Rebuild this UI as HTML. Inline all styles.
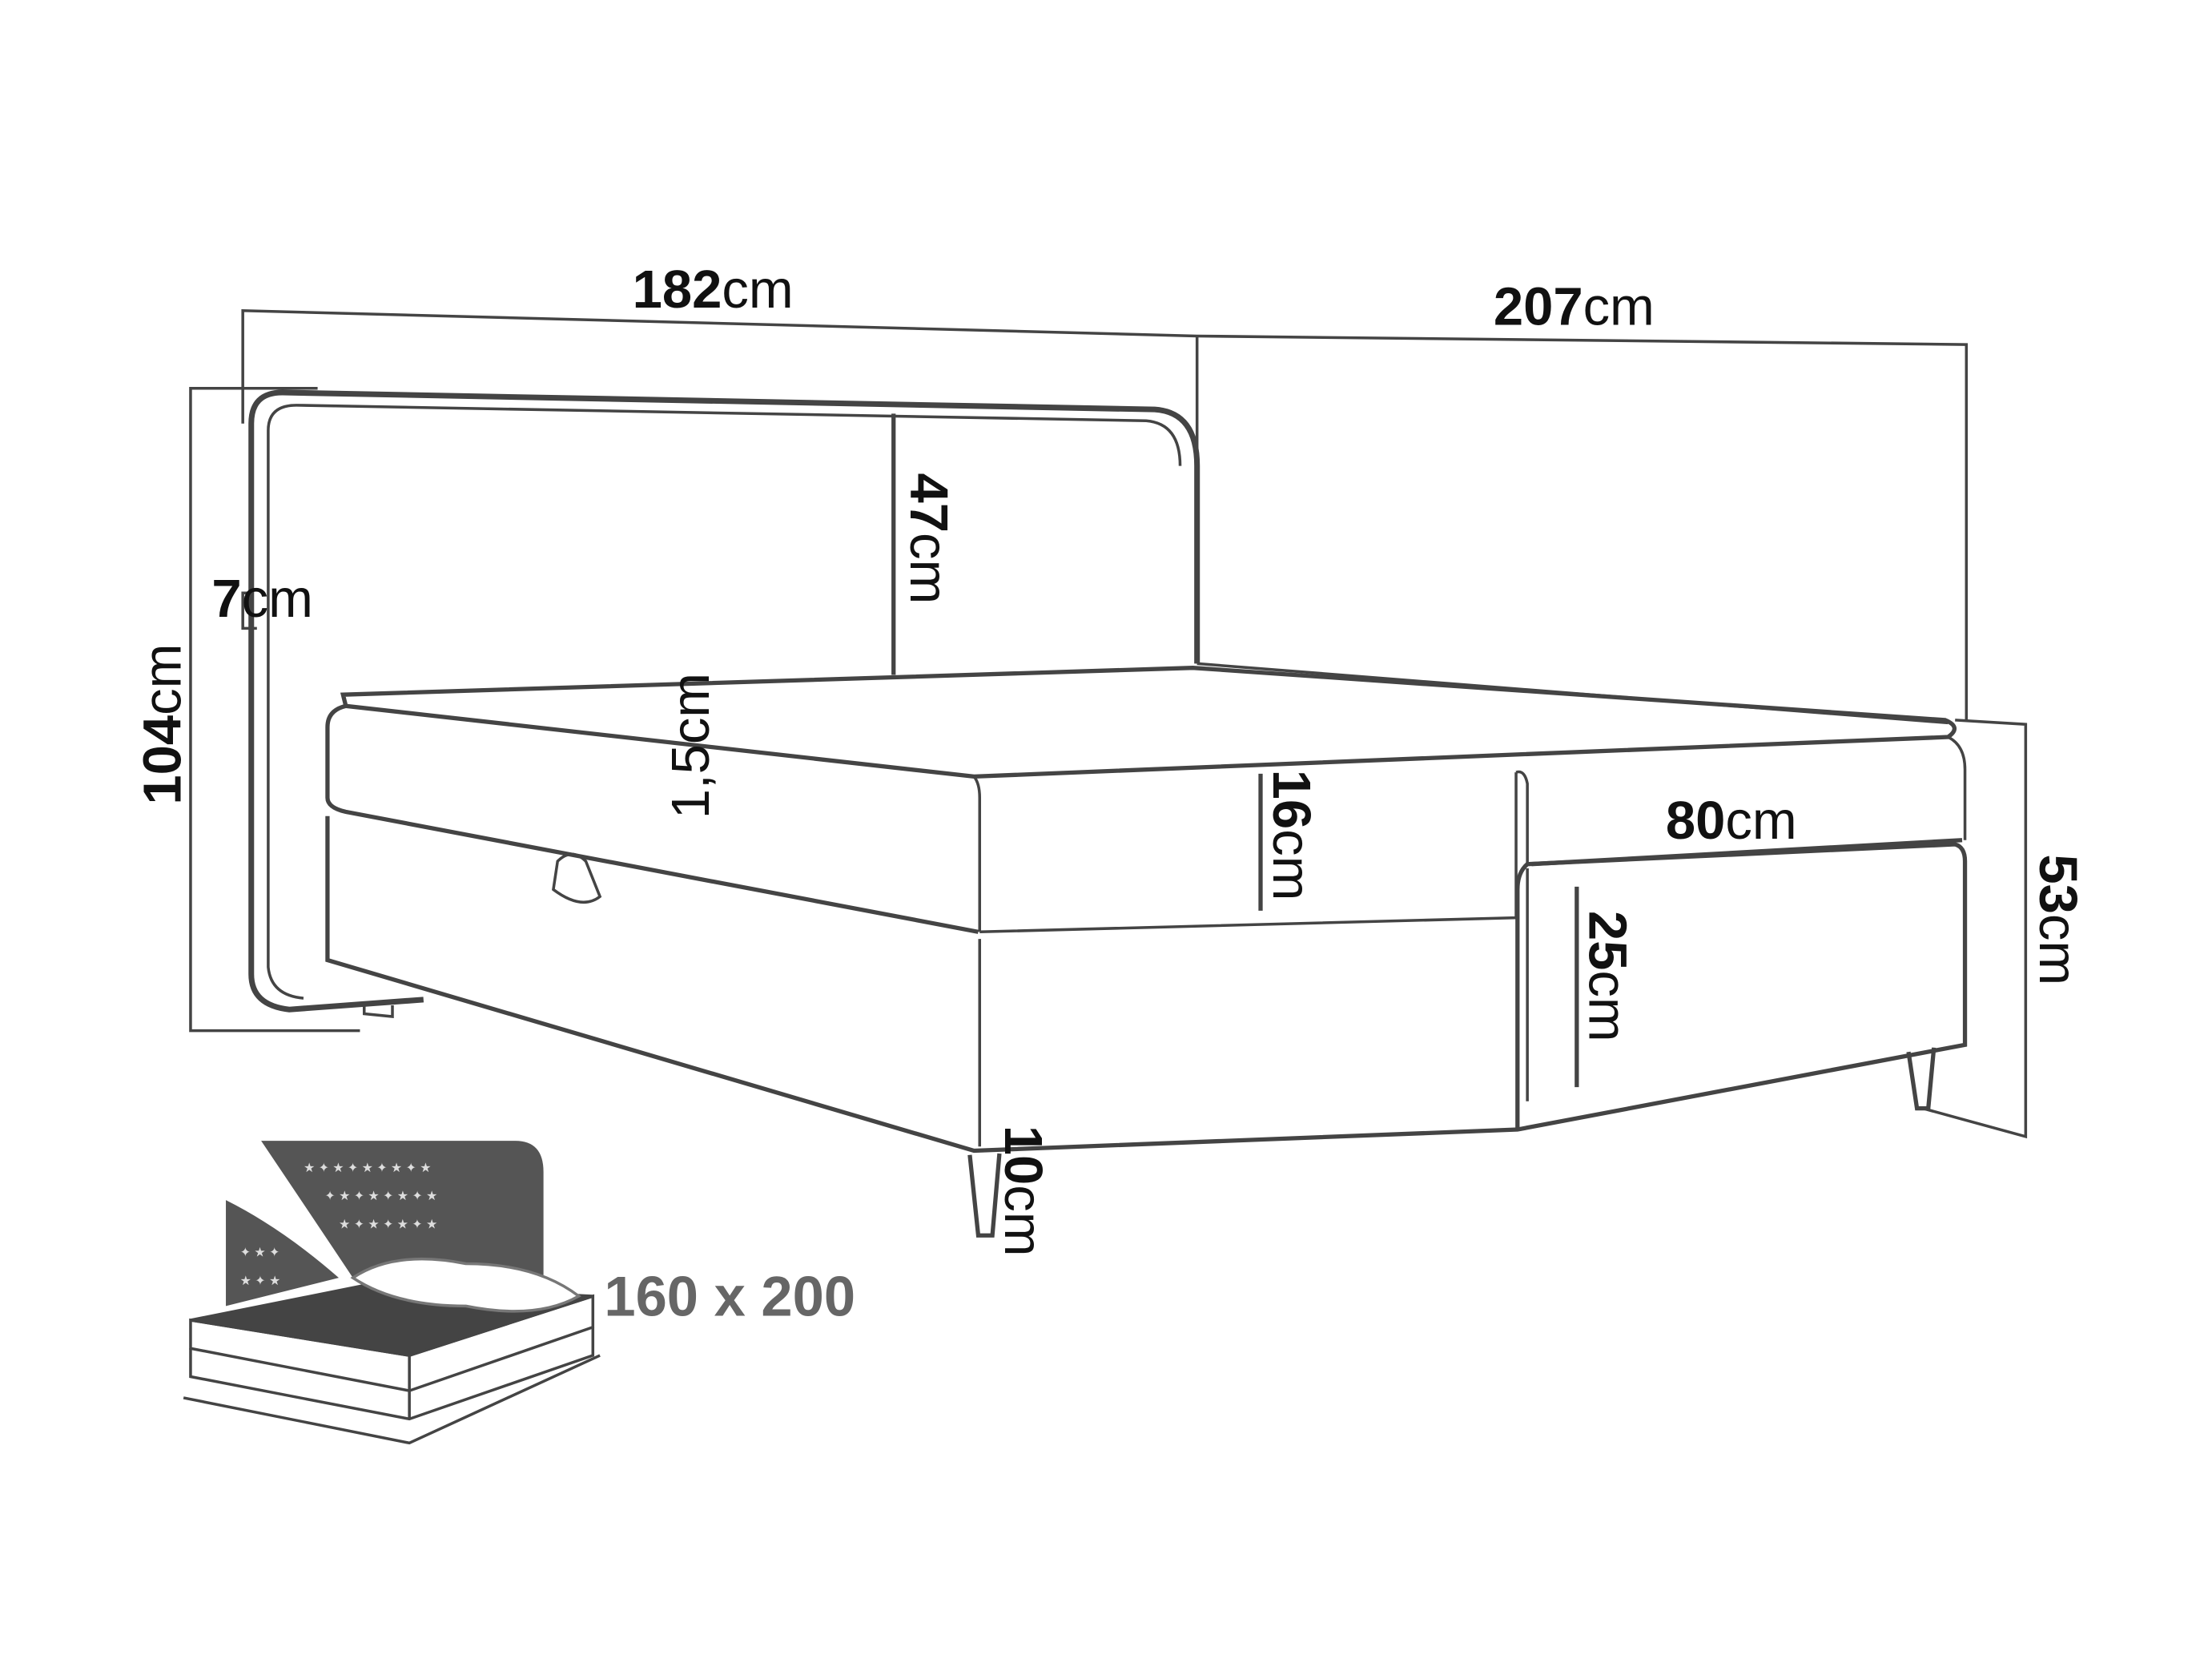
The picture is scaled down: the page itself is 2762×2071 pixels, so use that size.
<!DOCTYPE html>
<html><head><style>html,body{margin:0;padding:0;background:#fff;}svg{display:block}</style></head>
<body>
<svg width="2762" height="2071" viewBox="0 0 1567 1175" preserveAspectRatio="none" xmlns="http://www.w3.org/2000/svg" font-family="Liberation Sans, sans-serif">
<rect width="1567" height="1175" fill="#fff"/>
<g stroke="#444" stroke-width="2" fill="none">
<polyline points="172,300 172,220 848,238 1393,244 1393,510"/>
<line x1="848" y1="238" x2="848" y2="470"/>
<polyline points="225,275 135,275 135,730 255,730"/>
<polyline points="1385,510 1435,513 1435,805 1362,785"/>
<path d="M848,470 L848,330 Q848,292 818,290 L200,278 Q178,278 178,300 L178,690 Q178,712 205,715 L300,708" stroke-width="4"/>
<path d="M836,330 Q836,300 812,298 L210,287 Q190,287 190,305 L190,685 Q192,705 215,707" stroke-width="2"/>
<line x1="848" y1="470" x2="1380" y2="512"/>
<path d="M243,492 L845,473 L1378,510 Q1390,515 1380,522 L690,550 L245,500 Z" stroke-width="3"/>
<path d="M245,500 Q232,503 232,515 L232,565 Q232,572 245,575 L693,660" stroke-width="3"/>
<path d="M690,550 Q694,555 694,565 L694,660" stroke-width="2"/>
<path d="M1074,547 L1074,650 L694,660" stroke-width="2"/>
<path d="M1074,547 Q1080,545 1082,555 L1082,612"/>
<path d="M1380,522 Q1392,528 1392,545 L1392,595"/>
<path d="M232,578 L232,680 L690,815 L1075,800 L1392,740 L1392,610 Q1392,600 1385,598 L1082,612 Q1075,618 1075,630 L1075,800" stroke-width="3"/>
<path d="M694,665 L694,812"/>
<path d="M1082,615 L1082,780"/>
<path d="M395,610 Q405,600 415,610 L425,635 Q412,645 392,630 Z"/>
<path d="M258,712 L258,718 L278,720 L278,712"/>
<path d="M687,818 L693,875 L703,875 L708,817" stroke-width="3"/>
<path d="M1352,745 L1358,785 L1366,785 L1370,742" stroke-width="3"/>
<line x1="633" y1="293" x2="633" y2="478" stroke-width="3"/>
<line x1="893" y1="548" x2="893" y2="645" stroke-width="3"/>
<line x1="1117" y1="628" x2="1117" y2="770" stroke-width="3"/>
<line x1="1085" y1="612" x2="1390" y2="595" stroke-width="3"/>
<polyline points="178,420 172,420 172,445 182,445"/>
</g>
<g font-size="38" fill="#111">
<text x="448" y="218"><tspan font-weight="bold">182</tspan>cm</text>
<text x="1058" y="230"><tspan font-weight="bold">207</tspan>cm</text>
<text x="150" y="437"><tspan font-weight="bold">7</tspan>cm</text>
<text x="1180" y="594"><tspan font-weight="bold">80</tspan>cm</text>
<text transform="translate(128,570) rotate(-90)"><tspan font-weight="bold">104</tspan>cm</text>
<text transform="translate(502,580) rotate(-90)">1,5cm</text>
<text transform="translate(645,335) rotate(90)"><tspan font-weight="bold">47</tspan>cm</text>
<text transform="translate(902,545) rotate(90)"><tspan font-weight="bold">16</tspan>cm</text>
<text transform="translate(1126,645) rotate(90)"><tspan font-weight="bold">25</tspan>cm</text>
<text transform="translate(1445,605) rotate(90)"><tspan font-weight="bold">53</tspan>cm</text>
<text transform="translate(712,797) rotate(90)"><tspan font-weight="bold">10</tspan>cm</text>
</g>
<g>
<path d="M185,808 L365,808 Q385,808 385,830 L385,905 L250,905 Q220,860 185,808 Z" fill="#555"/>
<path d="M160,850 Q200,870 240,905 L160,925 Z" fill="#555"/>
<g fill="#ddd" font-size="9"><text x="215" y="830">★ ✦ ★ ✦ ★ ✦ ★ ✦ ★</text><text x="230" y="850">✦ ★ ✦ ★ ✦ ★ ✦ ★</text><text x="240" y="870">★ ✦ ★ ✦ ★ ✦ ★</text><text x="170" y="890">✦ ★ ✦</text><text x="170" y="910">★ ✦ ★</text></g>
<path d="M135,955 L290,985 L420,940 L420,918 L290,960 L135,935 Z" fill="#fff" stroke="#444" stroke-width="2"/>
<path d="M135,935 L260,910 L420,918 L290,960 Z" fill="#444" stroke="#444" stroke-width="2"/>
<path d="M250,905 Q280,885 330,895 Q380,895 410,918 Q380,935 330,925 Q280,925 250,905 Z" fill="#fff" stroke="#777" stroke-width="2"/>
<line x1="290" y1="960" x2="290" y2="1005" stroke="#444" stroke-width="2"/>
<polyline points="135,955 135,975 290,1005 420,960 420,940" fill="none" stroke="#444" stroke-width="2"/>
<polyline points="130,990 290,1022 425,960" fill="none" stroke="#444" stroke-width="2"/>
<text x="428" y="932" font-size="40" font-weight="bold" fill="#666">160 x 200</text>
</g>
</svg>
</body></html>
